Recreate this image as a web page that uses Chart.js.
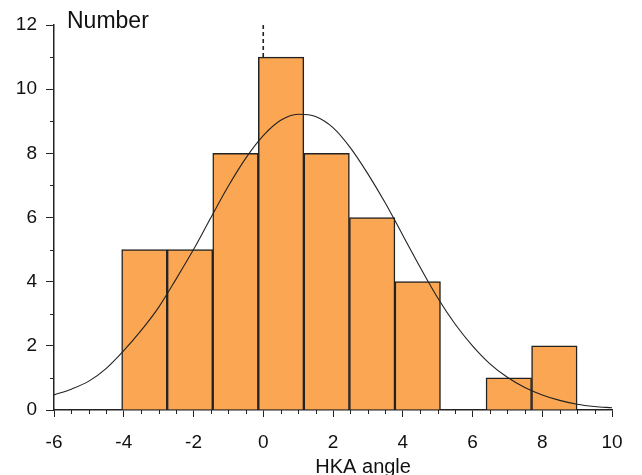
<!DOCTYPE html>
<html><head><meta charset="utf-8">
<script src="https://cdn.jsdelivr.net/npm/chart.js@4.4.1/dist/chart.umd.min.js"></script>
<style>html,body{margin:0;padding:0;background:#fff;}#wrap{width:642px;height:475px;}</style>
</head><body><div id="wrap"><canvas id="c" width="642" height="475"></canvas></div>
<script>
// Histogram bins (HKA angle)
const binStart = -4.06;
const binWidth = 1.306;
const binCounts = [5, 5, 8, 11, 8, 6, 4, 0, 1, 2];
// Fitted normal curve
const curveX = [-6,-5.5,-5,-4.5,-4,-3.5,-3,-2.5,-2,-1.5,-1,-0.5,0,0.5,1,1.5,2,2.5,3,3.5,4,4.5,5,5.5,6,6.5,7,7.5,8,8.5,9,9.5,10];
const curveY = [0.47,0.65,0.9,1.3,1.85,2.48,3.2,4.08,5.0,6.0,6.98,7.85,8.55,9.03,9.22,9.15,8.8,8.17,7.36,6.45,5.45,4.45,3.5,2.68,2.0,1.44,1.02,0.7,0.47,0.3,0.18,0.11,0.07];
// Dashed marker at x = 0
const markerX = 0;
const markerRange = [11, 12];
// Axis ticks
const xTicks = [-6,-4,-2,0,2,4,6,8,10];
const yTicks = [0,2,4,6,8,10,12];

const barData = binCounts.map((c,i)=>({x: binStart + binWidth*(i+0.5), y: c}));
const curveData = curveX.map((x,i)=>({x, y: curveY[i]}));
const markerData = markerRange.map(y=>({x: markerX, y}));

const FONT = "'Liberation Sans', Arial, sans-serif";
Chart.defaults.font.family = FONT;
Chart.defaults.color = '#111';

const extras = {
  id: 'extras',
  afterDraw(chart) {
    const ctx = chart.ctx, xs = chart.scales.x, ys = chart.scales.y;
    ctx.save();
    ctx.strokeStyle = '#222'; ctx.lineWidth = 1;
    for (let v = xs.min; v <= xs.max + 1e-9; v += 0.5) {
      if (Math.abs(v % 2) < 1e-9) continue;
      const p = Math.round(xs.getPixelForValue(v)) + 0.5;
      ctx.beginPath(); ctx.moveTo(p, ys.bottom); ctx.lineTo(p, ys.bottom + 4); ctx.stroke();
    }
    for (let v = ys.min; v <= ys.max + 1e-9; v += 1) {
      if (v % 2 === 0) continue;
      const p = Math.round(ys.getPixelForValue(v)) + 0.5;
      ctx.beginPath(); ctx.moveTo(xs.left, p); ctx.lineTo(xs.left - 4, p); ctx.stroke();
    }
    ctx.fillStyle = '#111';
    ctx.textBaseline = 'alphabetic';
    ctx.font = "23px " + FONT;
    ctx.textAlign = 'left';
    ctx.fillText('Number', xs.left + 13, ys.top + 3);
    ctx.font = "20px " + FONT;
    ctx.textAlign = 'center';
    ctx.fillText('HKA angle', xs.left + (xs.right - xs.left) * 0.554, chart.height - 2);
    ctx.restore();
  }
};

new Chart(document.getElementById('c'), {
  data: {
    datasets: [
      { type: 'bar', data: barData, backgroundColor: '#FBA653', borderColor: '#222', borderWidth: 1.5,
        barPercentage: 1, categoryPercentage: 1, order: 3 },
      { type: 'line', data: curveData, borderColor: '#222', borderWidth: 1.1, pointRadius: 0,
        cubicInterpolationMode: 'monotone', fill: false, order: 1 },
      { type: 'line', data: markerData, borderColor: '#222', borderWidth: 1.6, borderDash: [4,3], pointRadius: 0,
        fill: false, order: 2 }
    ]
  },
  options: {
    responsive: false, animation: false,
    layout: { padding: { top: 25, right: 30, left: 0, bottom: 0 } },
    plugins: { legend: { display: false }, tooltip: { enabled: false } },
    scales: {
      x: {
        type: 'linear', min: -6, max: 10, offset: false,
        afterBuildTicks: s => { s.ticks = xTicks.map(v => ({value: v})); },
        ticks: { font: { size: 19 }, padding: 14, maxRotation: 0, autoSkip: false },
        grid: { drawOnChartArea: false, offset: false, tickLength: 7, color: '#222' },
        border: { color: '#222', width: 1.5 },
        afterFit: s => { s.height = 65; }
      },
      y: {
        type: 'linear', min: 0, max: 12,
        afterBuildTicks: s => { s.ticks = yTicks.map(v => ({value: v})); },
        ticks: { font: { size: 19 }, padding: 9 },
        grid: { drawOnChartArea: false, tickLength: 8, color: '#222' },
        border: { color: '#222', width: 1.5 },
        afterFit: s => { s.width = 54; }
      }
    }
  },
  plugins: [extras]
});
</script></body></html>
